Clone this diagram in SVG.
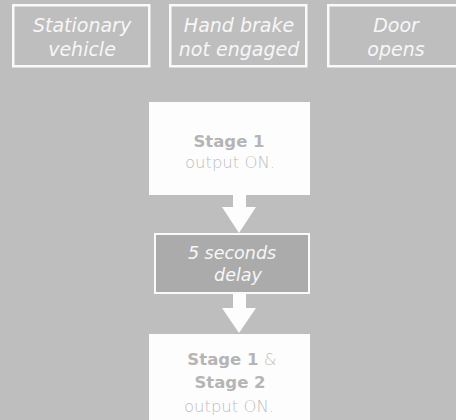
<svg xmlns="http://www.w3.org/2000/svg" width="456" height="420" viewBox="0 0 456 420">
<style>
.cond rect{fill:none;stroke:#fafafa;stroke-width:2.5}
.cond text,.delay text{font-family:"DejaVu Sans","Liberation Sans",sans-serif;font-style:italic;font-weight:300;font-size:19px;fill:#f7f7f7;text-anchor:middle}
.delay text{font-size:17.5px}
.stage rect{fill:#fdfdfd}
.stage text{font-family:"DejaVu Sans","Liberation Sans",sans-serif;font-size:16.5px;font-weight:300;fill:#bdbdbd;text-anchor:middle}
.stage .b{font-weight:bold;fill:#b5b5b5}
.delay rect{fill:#ababac;stroke:#fafafa;stroke-width:2}
.arrow{fill:#fdfdfd}
</style>
<rect width="456" height="420" fill="#bebebf"/>
<g id="stationary" class="cond">
<rect x="13.25" y="5.25" width="136" height="61"/>
<text x="82" y="32">Stationary</text>
<text x="82" y="56">vehicle</text>
</g>
<g id="handbrake" class="cond">
<rect x="170.25" y="5.25" width="136" height="61"/>
<text x="239" y="32">Hand brake</text>
<text x="239" y="56">not engaged</text>
</g>
<g id="door" class="cond">
<rect x="328.25" y="5.25" width="136" height="61"/>
<text x="396" y="32">Door</text>
<text x="396" y="56">opens</text>
</g>
<g id="stage1" class="stage">
<rect x="149" y="102" width="161" height="93"/>
<text x="229" y="147" class="b">Stage 1</text>
<text x="230" y="168">output ON.</text>
</g>
<g id="delay" class="delay">
<rect x="155" y="234" width="154" height="59"/>
<text x="232" y="259">5 seconds</text>
<text x="238" y="281">delay</text>
</g>
<g id="stage12" class="stage">
<rect x="149" y="334" width="161" height="90"/>
<text x="232" y="365"><tspan class="b">Stage 1</tspan> &amp;</text>
<text x="230" y="388" class="b">Stage 2</text>
<text x="229" y="412">output ON.</text>
</g>
<g id="connectors">
<path class="arrow" d="M233,195 H246 V207 H256 L239,233 L222,207 H233 Z"/>
<path class="arrow" d="M233,294 H246 V308 H256 L239,333 L222,308 H233 Z"/>
</g>
</svg>
